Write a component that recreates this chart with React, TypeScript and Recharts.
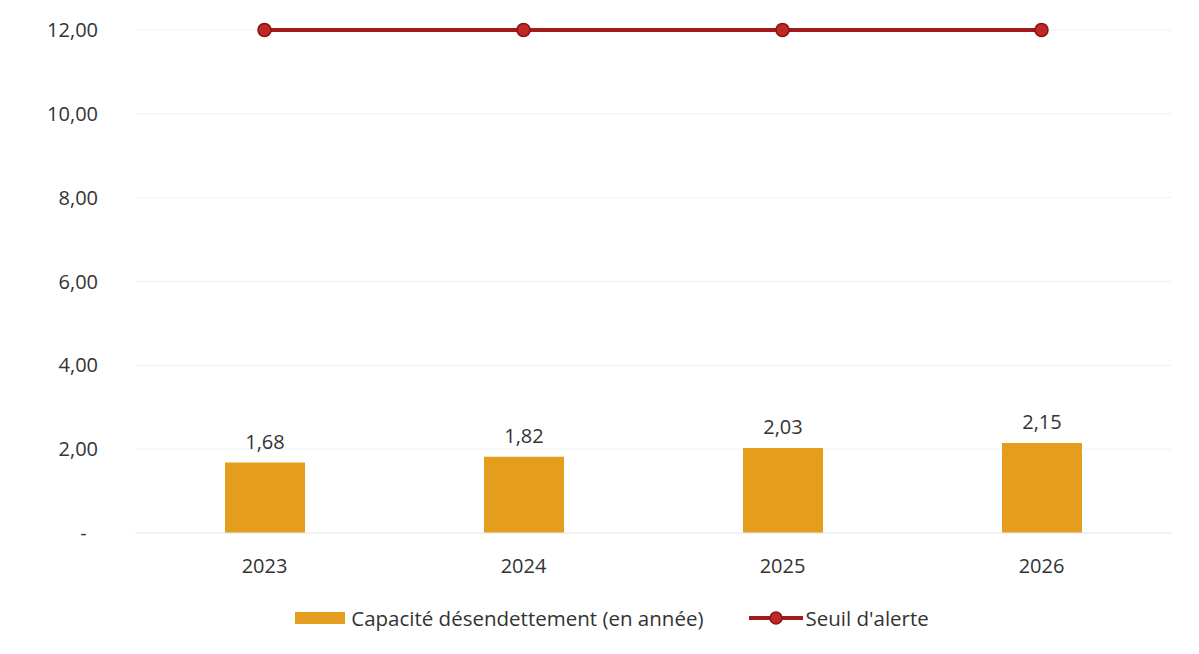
import React from 'react';
import { ComposedChart, Bar, Line, XAxis, YAxis, CartesianGrid, Legend, LabelList } from 'recharts';

const years = ['2023', '2024', '2025', '2026'];
const capacite = [1.68, 1.82, 2.03, 2.15];
const seuil = [12, 12, 12, 12];
const yTicks = [0, 2, 4, 6, 8, 10, 12];

const data = years.map((year, i) => ({ year, capacite: capacite[i], seuil: seuil[i] }));

const BAR_COLOR = '#E49D1D';
const LINE_COLOR = '#A21B1B';
const FONT = '"Open Sans", sans-serif';

// zero shows as a dash, padded with a figure space so it sits left of the column edge
const fmt = (v: number) => (v === 0 ? '-\u2007' : v.toFixed(2).replace('.', ','));

function LegendContent() {
  return (
    <div style={{ display: 'flex', justifyContent: 'center', alignItems: 'center', fontFamily: FONT, fontSize: 20.5, color: '#333', paddingLeft: 53 }}>
      <span style={{ display: 'inline-block', width: 50, height: 12, background: BAR_COLOR, marginRight: 6 }} />
      <span>Capacité désendettement (en année)</span>
      <svg width={54} height={16} style={{ marginLeft: 46, marginRight: 2 }}>
        <line x1={0} y1={8} x2={54} y2={8} stroke={LINE_COLOR} strokeWidth={4} />
        <circle cx={27} cy={8} r={6} fill="#C02828" stroke="#8A1414" strokeWidth={1.5} />
      </svg>
      <span>Seuil d'alerte</span>
    </div>
  );
}

export default function App() {
  return (
    <div style={{ position: 'absolute', left: 0, top: 0, background: '#fff' }}>
      <ComposedChart width={1199} height={654} data={data} margin={{ top: 30, right: 28, left: 0, bottom: 43 }}>
        <CartesianGrid vertical={false} stroke="#f0f0f0" />
        <YAxis
          domain={[0, 12]}
          ticks={yTicks}
          tickFormatter={fmt}
          axisLine={false}
          tickLine={false}
          width={135}
          tickMargin={31}
          tick={{ fill: '#333', fontSize: 20, fontFamily: FONT }}
        />
        <XAxis
          dataKey="year"
          axisLine={{ stroke: '#ececec' }}
          tickLine={false}
          height={50}
          tickMargin={20}
          tick={{ fill: '#333', fontSize: 20, fontFamily: FONT }}
        />
        <Bar dataKey="capacite" fill={BAR_COLOR} barSize={80} isAnimationActive={false}>
          <LabelList dataKey="capacite" position="top" offset={14} formatter={(v: any) => fmt(Number(v))} style={{ fill: '#333', fontSize: 20, fontFamily: FONT }} />
        </Bar>
        <Line
          dataKey="seuil"
          stroke={LINE_COLOR}
          strokeWidth={4}
          dot={{ r: 6.5, fill: '#C02828', stroke: '#8A1414', strokeWidth: 1.5 }}
          activeDot={false}
          isAnimationActive={false}
        />
        <Legend verticalAlign="bottom" content={<LegendContent />} wrapperStyle={{ bottom: 22 }} />
      </ComposedChart>
    </div>
  );
}
